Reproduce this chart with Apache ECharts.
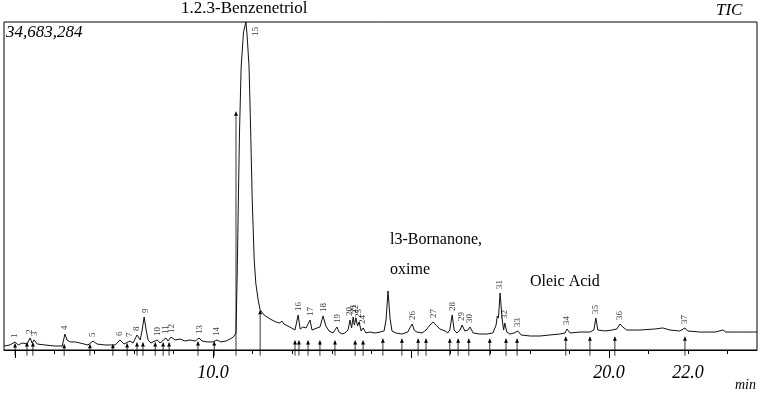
<!DOCTYPE html>
<html>
<head>
<meta charset="utf-8">
<script src="https://cdn.jsdelivr.net/npm/echarts@6/dist/echarts.min.js"></script>
<style>
  html, body { margin: 0; padding: 0; background: #fff; }
  #chart { width: 762px; height: 395px; }
</style>
</head>
<body>
<div id="chart"></div>
<script>
// retention time (min) and TIC abundance
const retention = [
  4.72, 4.87, 5.00, 5.08, 5.18, 5.30, 5.38, 5.43, 5.48, 5.56, 5.76, 6.01, 6.19, 6.26, 6.31, 6.39,
  6.52, 6.64, 6.84, 6.97, 7.07, 7.27, 7.53, 7.65, 7.75, 7.90, 7.98, 8.08, 8.16, 8.21, 8.26, 8.31,
  8.36, 8.43, 8.59, 8.66, 8.81, 8.86, 8.94, 9.04, 9.17, 9.29, 9.42, 9.55, 9.65, 9.72, 9.87, 10.00,
  10.10, 10.20, 10.33, 10.43, 10.51, 10.58, 10.61, 10.64, 10.67, 10.71, 10.77, 10.83, 10.86, 10.91,
  10.95, 10.99, 11.04, 11.08, 11.14, 11.19, 11.29, 11.44, 11.59, 11.69, 11.74, 11.79, 11.94, 12.07,
  12.12, 12.15, 12.20, 12.27, 12.35, 12.40, 12.45, 12.50, 12.55, 12.63, 12.70, 12.78, 12.85, 12.93,
  13.03, 13.08, 13.13, 13.18, 13.26, 13.33, 13.41, 13.46, 13.50, 13.54, 13.57, 13.61, 13.65, 13.69,
  13.74, 13.79, 13.86, 13.96, 14.09, 14.22, 14.32, 14.37, 14.42, 14.47, 14.52, 14.62, 14.77, 14.92,
  14.97, 15.03, 15.08, 15.15, 15.28, 15.38, 15.48, 15.56, 15.63, 15.73, 15.86, 15.93, 15.98, 16.04,
  16.09, 16.16, 16.24, 16.29, 16.36, 16.44, 16.49, 16.57, 16.74, 16.92, 17.07, 17.15, 17.18, 17.21,
  17.25, 17.30, 17.34, 17.37, 17.42, 17.50, 17.60, 17.70, 17.78, 18.01, 18.26, 18.51, 18.76, 18.89,
  18.94, 19.02, 19.27, 19.52, 19.62, 19.67, 19.72, 19.90, 20.08, 20.20, 20.28, 20.35, 20.45, 20.78,
  21.16, 21.36, 21.54, 21.79, 21.92, 21.99, 22.30, 22.68, 22.88, 22.95, 23.31, 23.74
];
const abundance = [
  420000, 530000, 850000, 530000, 740000, 630000, 1270000, 740000, 1060000, 630000, 530000, 420000, 420000, 1690000, 1060000, 850000,
  850000, 740000, 530000, 950000, 630000, 530000, 530000, 1060000, 630000, 950000, 740000, 1590000, 1060000, 2110000, 3490000, 2110000,
  1060000, 740000, 1060000, 740000, 1270000, 950000, 1370000, 1060000, 1160000, 950000, 1060000, 950000, 1270000, 950000, 850000, 850000,
  1060000, 850000, 950000, 1160000, 1370000, 1800000, 7930000, 15860000, 23260000, 29920000, 33630000, 34683284, 33310000, 29920000,
  23260000, 15860000, 9520000, 7080000, 5290000, 4230000, 3700000, 3280000, 2960000, 2850000, 3070000, 2750000, 2430000, 2110000,
  2220000, 3700000, 2220000, 2430000, 2330000, 2430000, 3170000, 2110000, 2010000, 2330000, 2430000, 3600000, 2540000, 2010000,
  1800000, 2010000, 2430000, 1900000, 1690000, 1800000, 2110000, 3170000, 2330000, 3490000, 2640000, 3380000, 2540000, 2960000,
  2010000, 2330000, 1800000, 1900000, 1800000, 1900000, 2010000, 3170000, 6240000, 3380000, 2010000, 1800000, 1690000, 1900000,
  2330000, 2750000, 2110000, 1900000, 1800000, 2110000, 2640000, 2960000, 2640000, 2220000, 2010000, 1800000, 2110000, 3700000,
  2110000, 1800000, 2110000, 2640000, 2010000, 2110000, 2430000, 1800000, 1690000, 1690000, 1800000, 2640000, 3600000, 3380000,
  6030000, 3380000, 2110000, 2850000, 1900000, 1690000, 1800000, 2010000, 1590000, 1480000, 1480000, 1590000, 1690000, 1800000,
  2220000, 1800000, 1900000, 1900000, 2110000, 3380000, 2110000, 2010000, 2110000, 2220000, 2750000, 2430000, 2110000, 2110000,
  2220000, 2330000, 2110000, 2010000, 2330000, 2010000, 1900000, 1900000, 2110000, 1900000, 1900000, 1900000
];

// numbered peaks: label, apex time, apex abundance
const peakNames = ['1', '2', '3', '4', '5', '6', '7', '8', '9', '10', '11', '12', '13', '14', '15',
  '16', '17', '18', '19', '20', '21', '22', '23', '24', '26', '27', '28', '29', '30', '31', '32',
  '33', '34', '35', '36', '37'];
const peakTimes = [5.00, 5.38, 5.50, 6.26, 6.97, 7.65, 7.90, 8.08, 8.30, 8.59, 8.81, 8.96, 9.65, 10.10, 10.83,
  12.15, 12.47, 12.80, 13.15, 13.46, 13.54, 13.61, 13.69, 13.79, 15.03, 15.56, 16.04, 16.29, 16.49, 17.25, 17.37,
  17.70, 18.94, 19.67, 20.28, 21.92];
const peakHeights = [850000, 1270000, 1060000, 1690000, 950000, 1060000, 950000, 1590000, 3490000, 1060000, 1270000, 1370000, 1270000, 1060000, 34683284,
  3700000, 3170000, 3600000, 2430000, 3170000, 3490000, 3380000, 2960000, 2330000, 2750000, 2960000, 3700000, 2640000, 2430000, 6030000, 2850000,
  2010000, 2220000, 3380000, 2750000, 2330000];

// integration markers: time and the abundance where the arrow stops
const markTimes = [5.00, 5.30, 5.45, 6.24, 6.89, 7.47, 7.83, 8.08, 8.23, 8.54, 8.74, 8.89, 9.62, 10.03, 10.58, 11.19,
  12.07, 12.17, 12.40, 12.70, 13.08, 13.59, 13.79, 14.29, 14.77, 15.18, 15.38, 15.98, 16.19, 16.46, 16.99, 17.40,
  17.68, 18.91, 19.52, 20.15, 21.92];
const markTops = [700000, 800000, 800000, 600000, 600000, 600000, 700000, 800000, 800000, 800000, 800000, 800000, 900000, 900000, 25200000, 4200000,
  1000000, 1000000, 1000000, 1000000, 1000000, 1000000, 1000000, 1200000, 1200000, 1200000, 1200000, 1200000, 1200000, 1200000, 1200000, 1200000,
  1200000, 1400000, 1400000, 1400000, 1400000];

const yMax = 34683284;
const majorTicks = [5, 10, 15, 20];
const minorTicks = [5, 6, 7, 8, 9, 10, 11, 12, 13, 14, 15, 16, 17, 18, 19, 20, 21, 22, 23];
const tickLabels = [10, 20, 22];

const serif = '"Liberation Serif", "DejaVu Serif", serif';

const trace = retention.map((t, i) => [t, abundance[i]]);
const peaks = peakNames.map((name, i) => {
  const item = { name: name, value: [peakTimes[i], peakHeights[i]] };
  if (name === '15') {
    // apex touches the top of the frame: label goes beside it instead
    item.label = { position: [10, 14], offset: [0, 0] };
  }
  return item;
});
const marks = markTimes.map((t, i) => [t, markTops[i]]);

const chart = echarts.init(document.getElementById('chart'));
chart.setOption({
  animation: false,
  grid: {
    left: 4, right: 5, top: 22, bottom: 45,
    show: true, borderColor: '#000', borderWidth: 1
  },
  xAxis: [
    {
      type: 'value', min: 4.72, max: 23.74,
      axisLine: { show: true, lineStyle: { color: '#000', width: 1 } },
      axisTick: { show: true, customValues: majorTicks, length: 8, lineStyle: { color: '#000' } },
      axisLabel: {
        customValues: tickLabels, margin: 14,
        formatter: v => v.toFixed(1),
        fontFamily: serif, fontStyle: 'italic', fontSize: 18, color: '#000'
      },
      splitLine: { show: false }
    },
    {
      type: 'value', min: 4.72, max: 23.74, position: 'bottom',
      axisLine: { show: false },
      axisTick: { show: true, customValues: minorTicks, length: 4, lineStyle: { color: '#000' } },
      axisLabel: { show: false },
      splitLine: { show: false }
    }
  ],
  yAxis: {
    type: 'value', min: 0, max: yMax, show: false, splitLine: { show: false }
  },
  series: [
    {
      type: 'line',
      data: trace,
      showSymbol: false,
      symbol: 'none',
      lineStyle: { color: '#111', width: 1 },
      z: 3
    },
    {
      type: 'custom',
      data: marks,
      clip: false,
      renderItem: function (params, api) {
        const t = api.value(0);
        const foot = api.coord([t, -600000]);
        const head = api.coord([t, api.value(1)]);
        return {
          type: 'group',
          children: [
            { type: 'line', shape: { x1: foot[0], y1: foot[1], x2: head[0], y2: head[1] },
              style: { stroke: '#000', lineWidth: 0.8 } },
            { type: 'polygon', shape: { points: [[head[0], head[1]], [head[0] - 2, head[1] + 4], [head[0] + 2, head[1] + 4]] },
              style: { fill: '#000' } }
          ]
        };
      },
      z: 2
    },
    {
      type: 'scatter',
      data: peaks,
      symbolSize: 0,
      label: {
        show: true,
        formatter: p => p.name,
        position: 'top',
        distance: 2,
        offset: [2, 0],
        rotate: 90,
        align: 'left',
        verticalAlign: 'middle',
        fontFamily: serif,
        fontSize: 9,
        color: '#000'
      },
      z: 4
    }
  ],
  graphic: [
    { type: 'text', left: 181, top: 0, style: { text: '1.2.3-Benzenetriol', font: '17px ' + serif, fill: '#000' } },
    { type: 'text', left: 716, top: 2, style: { text: 'TIC', font: 'italic 17px ' + serif, fill: '#000' } },
    { type: 'text', left: 6, top: 24, style: { text: '34,683,284', font: 'italic 17px ' + serif, fill: '#000' } },
    { type: 'text', left: 390, top: 232, style: { text: 'l3-Bornanone,', font: '16px ' + serif, fill: '#000' } },
    { type: 'text', left: 390, top: 262, style: { text: 'oxime', font: '16px ' + serif, fill: '#000' } },
    { type: 'text', left: 530, top: 274, style: { text: 'Oleic Acid', font: '16px ' + serif, fill: '#000' } },
    { type: 'text', left: 735, top: 378, style: { text: 'min', font: 'italic 14px ' + serif, fill: '#000' } }
  ]
});
</script>
</body>
</html>
